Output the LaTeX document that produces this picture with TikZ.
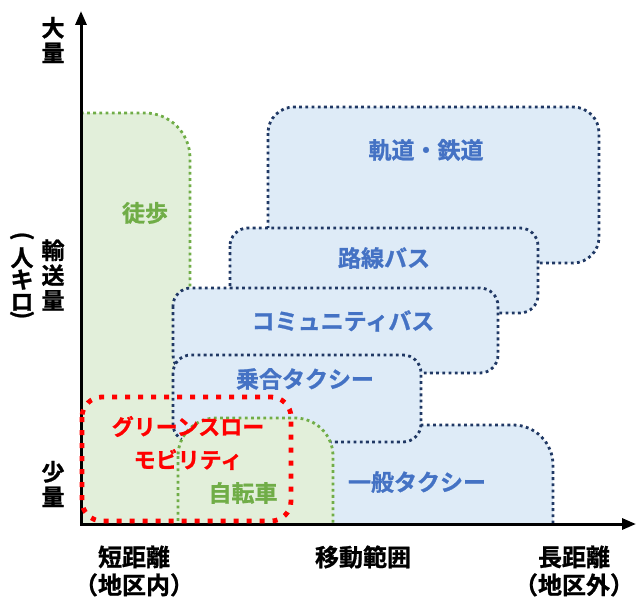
\documentclass[tikz,border=0pt]{standalone}
\usepackage{fontspec}
\setmainfont{Noto Sans CJK JP Bold}[FakeBold=1]
\usetikzlibrary{arrows.meta}

\definecolor{bluefill}{HTML}{DEEBF7}
\definecolor{greenfill}{HTML}{E2EFDA}
\definecolor{navyline}{HTML}{203864}
\definecolor{greenline}{HTML}{70AD47}
\definecolor{bluetext}{HTML}{4472C4}
\definecolor{redline}{HTML}{FF0000}

\tikzset{
  bluebox/.style={fill=bluefill, draw=navyline, line width=2.8pt, dash pattern=on 2.8pt off 3.4pt},
  greenbox/.style={fill=greenfill, draw=greenline, line width=2.8pt, dash pattern=on 2.8pt off 3.4pt},
  redbox/.style={draw=redline, line width=4.8pt, dash pattern=on 5pt off 8pt},
  axisline/.style={draw=black, line width=3pt},
  bluelabel/.style={text=bluetext, inner sep=0pt, font=\fontsize{23}{26}\selectfont},
  greenlabel/.style={text=greenline, inner sep=0pt, font=\fontsize{23}{26}\selectfont},
  redlabel/.style={text=redline, inner sep=0pt, font=\fontsize{22}{33}\selectfont},
  axislabel/.style={text=black, inner sep=0pt, align=center, font=\fontsize{23}{25}\selectfont}
}

\begin{document}
\begin{tikzpicture}[x=1pt, y=-1pt]
  \useasboundingbox (0,0) rectangle (636,599);

  % mode areas, cut off at the axes
  \begin{scope}
    \clip (81,0) rectangle (636,524);
    \draw[greenbox, rounded corners=45pt] (30,113) rectangle (190,580);
    \draw[bluebox, rounded corners=26pt] (268,107) rectangle (599,263);
    \draw[bluebox, rounded corners=18pt] (230,228) rectangle (538,313);
    \draw[bluebox, rounded corners=18pt] (173,288) rectangle (498,373);
    \draw[bluebox, rounded corners=40pt] (250,425) rectangle (553,580);
    \draw[bluebox, rounded corners=18pt] (173,355) rectangle (421,442);
    \draw[greenbox, rounded corners=38pt] (178,418) rectangle (333,580);
  \end{scope}

  % axes
  \coordinate (origin) at (81,524);
  \coordinate (ytop) at (81,11);
  \coordinate (xend) at (636,524);
  \draw[axisline, {Triangle[length=14pt,width=11pt]}-{Triangle[length=14pt,width=11pt]}]
    (ytop) -- (origin) -- (xend);

  % green slow mobility
  \draw[redbox, rounded corners=20pt] (82,397) rectangle (291,521);

  % labels
  \node[greenlabel] (walk) at (145,213) {徒歩};
  \node[bluelabel] (rail) at (426,150) {軌道・鉄道};
  \node[bluelabel] (bus) at (384,258) {路線バス};
  \node[bluelabel] (cbus) at (343,321) {コミュニティバス};
  \node[bluelabel] (shared) at (305,379) {乗合タクシー};
  \node[bluelabel] (taxi) at (417,482) {一般タクシー};
  \node[greenlabel] (bike) at (243,493) {自転車};
  \node[redlabel, align=center] (gsm) at (188,443) {グリーンスロー\\モビリティ};

  \node[axislabel] (much) at (53,40) {大\\量};
  \node[axislabel] (volume) at (53,275) {輸\\送\\量};
  \node[axislabel, rotate=-90] (lparen) at (22,236) {(};
  \node[axislabel, font=\fontsize{23}{22}\selectfont] (unit) at (22,279) {人\\キ\\ロ};
  \node[axislabel, rotate=-90] (rparen) at (22,315) {)};
  \node[axislabel] (little) at (53,484) {少\\量};

  \node[axislabel, font=\fontsize{24}{28}\selectfont] (short) at (134,571) {短距離\\（地区内）};
  \node[axislabel, font=\fontsize{24}{28}\selectfont] (range) at (363,557) {移動範囲};
  \node[axislabel, font=\fontsize{24}{28}\selectfont] (long) at (574,571) {長距離\\（地区外）};
\end{tikzpicture}
\end{document}
